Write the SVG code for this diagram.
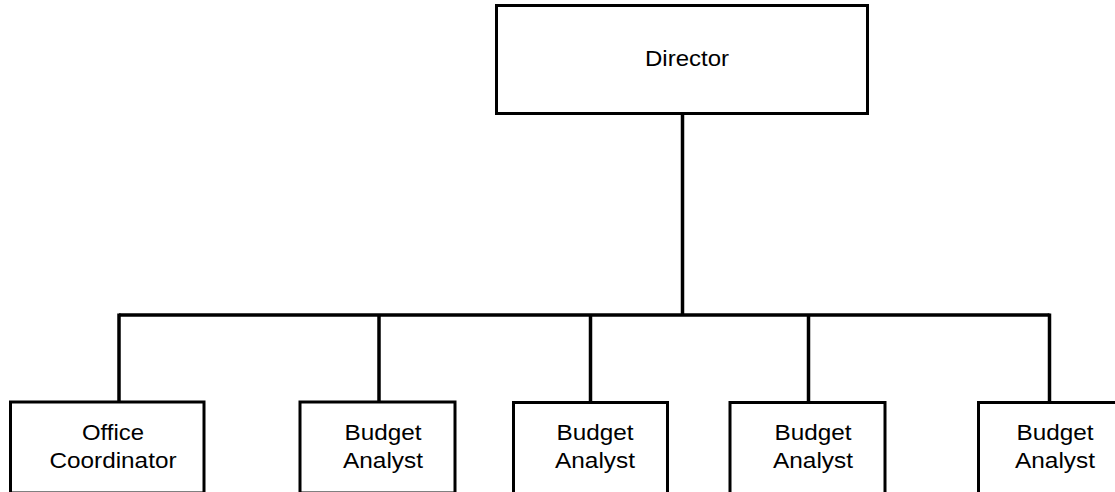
<svg xmlns="http://www.w3.org/2000/svg" width="1115" height="492" viewBox="0 0 1115 492">
<style>
.box{fill:#fff;stroke:#000;stroke-width:3}
.con{fill:none;stroke:#000;stroke-width:3.5;stroke-linecap:butt}
text{font-family:"Liberation Sans",Arial,sans-serif;font-size:21.5px;fill:#000;text-anchor:middle}
</style>
<rect width="1115" height="492" fill="#fff"/>
<g id="connectors">
<path class="con" d="M682.5 115 V315"/>
<path class="con" d="M119 315 H1049.5"/>
<path class="con" d="M119 313.5 V402"/>
<path class="con" d="M379 315 V402"/>
<path class="con" d="M590.5 315 V402"/>
<path class="con" d="M808.5 315 V402"/>
<path class="con" d="M1049.5 313.5 V402"/>
</g>
<g id="director">
<rect class="box" x="496.5" y="5.5" width="371" height="108"/>
<text x="687" y="66" textLength="84" lengthAdjust="spacingAndGlyphs">Director</text>
</g>
<g id="office-coordinator">
<rect class="box" x="10.5" y="402" width="193.5" height="91"/>
<text x="113" y="439.5" textLength="62" lengthAdjust="spacingAndGlyphs">Office</text>
<text x="113" y="467.5" textLength="127" lengthAdjust="spacingAndGlyphs">Coordinator</text>
</g>
<g id="budget-analyst-1">
<rect class="box" x="300" y="402" width="155" height="91"/>
<text x="383" y="439.5" textLength="77" lengthAdjust="spacingAndGlyphs">Budget</text>
<text x="383" y="467.5" textLength="80" lengthAdjust="spacingAndGlyphs">Analyst</text>
</g>
<g id="budget-analyst-2">
<rect class="box" x="513.5" y="402.5" width="154" height="91"/>
<text x="595" y="439.5" textLength="77" lengthAdjust="spacingAndGlyphs">Budget</text>
<text x="595" y="467.5" textLength="80" lengthAdjust="spacingAndGlyphs">Analyst</text>
</g>
<g id="budget-analyst-3">
<rect class="box" x="730" y="402.5" width="155" height="91"/>
<text x="813" y="439.5" textLength="77" lengthAdjust="spacingAndGlyphs">Budget</text>
<text x="813" y="467.5" textLength="80" lengthAdjust="spacingAndGlyphs">Analyst</text>
</g>
<g id="budget-analyst-4">
<rect class="box" x="978.5" y="402.5" width="155" height="91"/>
<text x="1055" y="440" textLength="77" lengthAdjust="spacingAndGlyphs">Budget</text>
<text x="1055" y="467.5" textLength="80" lengthAdjust="spacingAndGlyphs">Analyst</text>
</g>
</svg>
